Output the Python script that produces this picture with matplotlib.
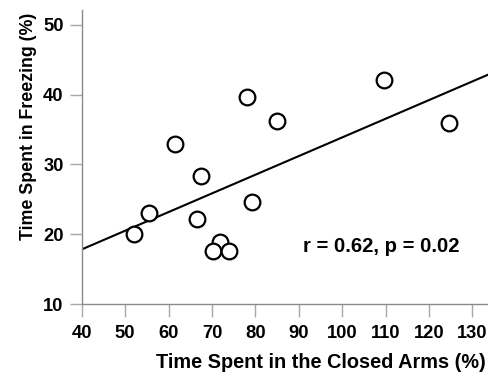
import numpy as np
import matplotlib
matplotlib.use("Agg")
import matplotlib.pyplot as plt

# Time spent in the closed arms (%) vs time spent freezing (%)
closed_arms = [52.0, 55.6, 61.4, 67.5, 66.5, 71.9, 70.3, 74.0, 78.0, 79.3, 85.0, 109.7, 124.6]
freezing = [20.0, 23.0, 32.9, 28.4, 22.2, 18.85, 17.6, 17.6, 39.6, 24.6, 36.3, 42.1, 35.9]
x_ticks = [40, 50, 60, 70, 80, 90, 100, 110, 120, 130]
y_ticks = [10, 20, 30, 40, 50]
stats_text = "r = 0.62, p = 0.02"

plt.rcParams["font.family"] = ["Liberation Sans", "DejaVu Sans"]
plt.rcParams["font.weight"] = "bold"

fig = plt.figure(figsize=(4.89, 3.81), dpi=100)
ax = fig.add_axes([0.167, 0.202, 0.833, 0.772])

x = np.array(closed_arms)
y = np.array(freezing)
slope, intercept = np.polyfit(x, y, 1)

xlim = (40, 133.8)
ylim = (10, 52.15)
xl = np.array(xlim)
ax.plot(xl, slope * xl + intercept, color="black", lw=1.5, zorder=2)
ax.plot(x, y, linestyle="none", marker="o", markersize=11.3,
        markerfacecolor="white", markeredgecolor="black", markeredgewidth=1.6,
        zorder=3, clip_on=False)

ax.set_xlim(*xlim)
ax.set_ylim(*ylim)
ax.set_xticks(x_ticks)
ax.set_yticks(y_ticks)

for side in ("top", "right"):
    ax.spines[side].set_visible(False)
for side in ("left", "bottom"):
    ax.spines[side].set_color("#8a8a8a")
    ax.spines[side].set_linewidth(1.0)
ax.tick_params(axis="both", direction="out", length=9, width=1.0,
               color="#a8a8a8", labelsize=13.2)
ax.tick_params(axis="x", pad=6)
ax.tick_params(axis="y", pad=4)
for lab in ax.get_xticklabels() + ax.get_yticklabels():
    lab.set_fontweight("bold")

ax.set_xlabel("Time Spent in the Closed Arms (%)", fontsize=14.3,
              fontweight="bold", loc="right")
ax.xaxis.set_label_coords(0.993, -0.165)
ax.xaxis.label.set_verticalalignment("top")
ax.set_ylabel("Time Spent in Freezing (%)", fontsize=12.8,
              fontweight="bold")
ax.yaxis.set_label_coords(-0.11, 0.605)

ax.text(91.0, 18.2, stats_text, fontsize=14.6, fontweight="bold",
        ha="left", va="center")

fig.savefig("out.png", dpi=100)
